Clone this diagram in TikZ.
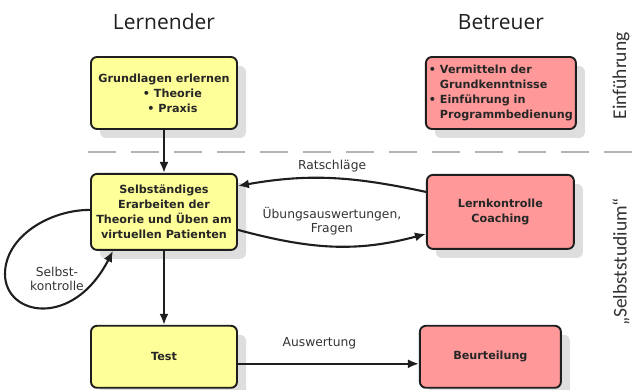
\documentclass[tikz,border=0pt]{standalone}
\usepackage{fontspec}
\setmainfont{DejaVu Sans}
\newfontfamily\headfont{Open Sans}
\newfontfamily\sidefont{Carlito}
\usetikzlibrary{positioning, arrows.meta, shadows}

\definecolor{lernyellow}{HTML}{FFFF99}
\definecolor{betreuerred}{HTML}{FF9999}
\definecolor{darkline}{HTML}{1E1E1E}
\definecolor{dashgray}{HTML}{B4B4B4}

\begin{document}
\begin{tikzpicture}[
    x=1pt, y=1pt,
    node distance=43pt and 188pt, %% Vertical and horizontal distance
    box/.style={
        rectangle,
        rounded corners=6pt,
        draw=darkline,
        line width=1.9pt,
        align=center,
        text=black!85,
        font=\bfseries\fontsize{11.2}{15}\selectfont,
        inner sep=3pt,
        minimum width=146pt,
        drop shadow={shadow xshift=9pt, shadow yshift=-9pt, fill=black!13, opacity=1}
    },
    learner/.style={box, fill=lernyellow},
    tutor/.style={box, fill=betreuerred},
    arrow/.style={
        -{Latex[length=11pt,width=9pt]},
        line width=2.1pt,
        darkline
    },
    edgelabel/.style={
        inner sep=0pt,
        align=center,
        text=black!80,
        font=\fontsize{12.3}{14.5}\selectfont
    },
    header/.style={
        font=\headfont\fontsize{21}{24}\selectfont,
        text=black!88
    },
    phase/.style={
        rotate=90,
        text=black!80,
        font=\sidefont\fontsize{19.5}{22}\selectfont
    }
]
\useasboundingbox (0,0) rectangle (633,-390);

%% Separator between the two phases
\draw[dashgray, line width=2pt, dash pattern=on 28pt off 15pt] (88,-152) -- (633,-152);

%% Left column: Lernender
\node[learner, minimum height=72pt] (grundlagen) at (164,-93)
    {Grundlagen erlernen\\\hspace*{1.5em}\textbullet\ Theorie\\\hspace*{1.5em}\textbullet\ Praxis};
\node[learner, minimum height=76pt, below=of grundlagen] (selbst)
    {Selbständiges\\Erarbeiten der\\Theorie und Üben am\\virtuellen Patienten};
\node[learner, minimum height=62pt, below=74pt of selbst] (test) {Test};

%% Right column: Betreuer
\node[tutor, minimum width=150pt, minimum height=72pt, right=187pt of grundlagen, align=left] (vermitteln)
    {\textbullet\ Vermitteln der\\\phantom{\textbullet\ }Grundkenntnisse\\\textbullet\ Einführung in\\\phantom{\textbullet\ }Programmbedienung};
\node[tutor, minimum width=147pt, minimum height=74pt, right=of selbst] (coach) {Lernkontrolle\\Coaching};
\node[tutor, minimum width=141pt, minimum height=62pt, right=181pt of test] (beurteilung) {Beurteilung};

%% Column headers and phase labels
\node[header] (lernender) at (grundlagen |- 0,-22) {Lernender};
\node[header] (betreuer) at (vermitteln |- 0,-22) {Betreuer};
\node[phase] (einfuehrung) at (621,-76) {Einführung};
\node[phase] (selbststudium) at (621,-262) {„Selbststudium“};

%% Vertical connections
\draw[arrow] (grundlagen) -- (selbst);
\draw[arrow] (selbst) -- (test);

%% Exchange between Lernender and Betreuer
\draw[arrow] ([yshift=20pt]coach.west) to[out=168, in=10]
    node[edgelabel, above=5pt] (ratschlaege) {Ratschläge} ([yshift=26pt]selbst.east);
\draw[arrow] ([yshift=-18pt]selbst.east) to[out=-15, in=195]
    node[edgelabel, above=10pt] (fragen) {Übungsauswertungen,\\Fragen} ([yshift=-22pt]coach.west);
\draw[arrow] ([yshift=-7pt]test.east) --
    node[edgelabel, above=14pt, pos=0.45] (auswertung) {Auswertung} ([yshift=-7pt]beurteilung.west);

%% Self check loop
\coordinate (loopleft) at (5,-274);
\draw[arrow] ([yshift=2pt]selbst.west) .. controls +(-41,0) and +(0,37) .. (loopleft)
    .. controls +(0,-42) and +(-40,-78) .. ([xshift=-51pt]selbst.south);
\node[edgelabel] (selbstkontrolle) at (57,-279) {Selbst-\\kontrolle};

\end{tikzpicture}
\end{document}
